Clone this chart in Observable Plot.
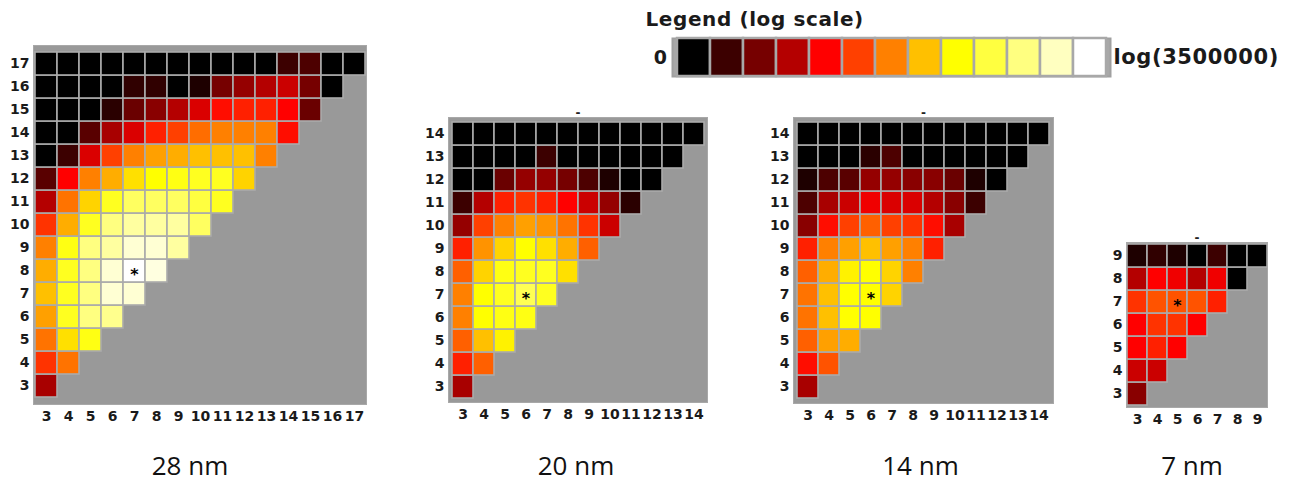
<!DOCTYPE html>
<html>
<head>
<meta charset="utf-8">
<script src="https://cdn.jsdelivr.net/npm/d3@7"></script>
<script src="https://cdn.jsdelivr.net/npm/@observablehq/plot@0.6"></script>
<style>
  html, body { margin: 0; padding: 0; background: #fff; }
  #root { position: relative; width: 1289px; height: 482px; background: #fff; }
  .pane { position: absolute; }
  #legend text { letter-spacing: 0.6px; }
</style>
</head>
<body>
<div id="root"></div>
<script>
// Legend colour steps (0 .. log(3500000)), 13 levels
const legendColors = ["#000000","#3c0000","#760000","#b40000","#ff0000","#ff4000","#ff8000","#ffc000","#ffff00","#ffff40","#ffff80","#ffffc0","#ffffff"];
const legendLevels = d3.range(13);

// Cell levels (0..12 on the legend), rows from y=3 upward; row y holds x = 3..y
const nm28 = [
  [2.8],
  [4.8, 5.8],
  [5.8, 7.5, 8.3],
  [6.5, 8.5, 10, 10.2],
  [7, 8.5, 10, 11.3, 11.3],
  [6.7, 8.5, 10, 11.3, 12, 11.5],
  [6, 8.3, 10, 10.5, 11.3, 11.3, 10.5],
  [4.8, 6.7, 8.5, 10, 10.5, 10.5, 10.5, 9.5],
  [3, 5.8, 7.3, 8.5, 9.5, 9.5, 9.5, 9, 8.5],
  [1.5, 4, 6, 6.7, 7.5, 8, 8.3, 8.5, 8.5, 7.3],
  [0, 1, 3.5, 5, 6, 6.5, 6.7, 7, 7, 7, 6],
  [0, 0, 1.5, 2.8, 3.5, 4.5, 5, 5.7, 6, 6, 6, 4.2],
  [0, 0, 0, 0.7, 1.8, 2.3, 3, 3.5, 4.2, 4.5, 4.5, 4, 1.8],
  [0, 0, 0, 0, 0.8, 0.8, 0, 0.5, 2, 2.5, 3, 3.3, 2, 0],
  [0, 0, 0, 0, 0, 0, 0, 0, 0, 0, 0, 1, 1.3, 0, 0]
];
const nm20 = [
  [2.8],
  [4.5, 5.5],
  [5.5, 7, 7.8],
  [6, 8, 8.3, 8.3],
  [6, 8, 8.5, 9.3, 8.5],
  [5.5, 7.3, 8.3, 8.5, 8.5, 7.5],
  [4.5, 6.3, 7.3, 8, 7.5, 6.7, 5.5],
  [2.5, 5, 6, 6.5, 6.3, 5.8, 4.8, 3.3],
  [1, 3, 4.5, 4.8, 4.5, 4, 3.3, 2.5, 0.7],
  [0, 0, 1.8, 2.5, 2.5, 2, 1.3, 0.5, 0, 0],
  [0, 0, 0, 0, 1, 0, 0, 0, 0, 0, 0],
  [0, 0, 0, 0, 0, 0, 0, 0, 0, 0, 0, 0]
];
const nm14 = [
  [2.8],
  [4.2, 5.3],
  [5.5, 6.5, 6.7],
  [5.8, 7, 8, 8],
  [5.8, 7, 8, 8, 7.3],
  [5.5, 6.7, 7.8, 8, 7.3, 6],
  [4.5, 6, 6.5, 7, 6.5, 6, 4.5],
  [2.3, 4.2, 5, 5.5, 5, 4.8, 4.2, 2.8],
  [1.3, 2.8, 3.3, 3.8, 3.5, 3.5, 3, 2.3, 1],
  [0.5, 1.3, 1.5, 2.5, 2.5, 2.3, 2.3, 1.8, 0.5, 0],
  [0, 0, 0, 0.7, 1.3, 0, 0, 0, 0, 0, 0],
  [0, 0, 0, 0, 0, 0, 0, 0, 0, 0, 0, 0]
];
const nm7 = [
  [2.3],
  [3.3, 3.3],
  [4, 4.5, 4],
  [4, 4.8, 4.8, 4],
  [4.8, 5.3, 5.3, 5.3, 4.5],
  [3, 4, 3.8, 3, 3.8, 0],
  [0.5, 0.8, 0.5, 0, 1, 0, 0]
];

// Starred cells [x, y]
const star28 = [7, 8];
const star20 = [6, 7];
const star14 = [6, 7];
const star7 = [5, 7];

const captions = ["28 nm", "20 nm", "14 nm", "7 nm"];
const legendTitle = "Legend (log scale)";
const legendMin = "0";
const legendMax = "log(3500000)";

const root = document.getElementById("root");
const colorScale = {type: "linear", domain: legendLevels, range: legendColors, clamp: true};

function panel(rows, maxTick, star, caption, box, dash) {
  const data = rows.flatMap((r, i) => r.map((v, j) => ({x: 3 + j, y: 3 + i, v})));
  const ticks = d3.range(3, maxTick + 1);
  const marks = [
    Plot.frame({fill: "#999999", stroke: "#a8a8a8"}),
    Plot.cell(data, {x: "x", y: "y", fill: "v", stroke: "#ababab", strokeWidth: 1.6}),
    Plot.text([star], {x: d => d[0], y: d => d[1], text: () => "*", fill: "#000", fontSize: 16, fontWeight: "bold", dy: 4}),
    Plot.text([caption], {frameAnchor: "bottom", lineAnchor: "middle", text: d => d, dx: box.cdx, dy: box.cdy, fontSize: 26, fontWeight: "normal", fontFamily: "Open Sans", fill: "#111"})
  ];
  if (dash) marks.push(Plot.text(["-"], {frameAnchor: "top", text: d => d, dy: -9, fontSize: 12, fill: "#222"}));
  const svg = Plot.plot({
    width: box.w, height: box.h,
    marginLeft: box.ml, marginRight: box.mr, marginTop: box.mt, marginBottom: box.mb,
    x: {type: "band", domain: ticks, padding: 0, tickSize: 0, tickPadding: 7, label: null},
    y: {type: "band", domain: ticks.slice().reverse(), padding: 0, tickSize: 0, tickPadding: 4, label: null},
    color: colorScale,
    style: {fontFamily: "DejaVu Sans", fontSize: "14px", fontWeight: "bold", color: "#1a1a1a", background: "transparent", overflow: "visible"},
    marks
  });
  const div = document.createElement("div");
  div.className = "pane";
  div.style.left = box.left + "px";
  div.style.top = box.top + "px";
  div.appendChild(svg);
  root.appendChild(div);
}

panel(nm28, 17, star28, captions[0], {left: 0, top: 0, w: 372, h: 482, ml: 33, mr: 6, mt: 45, mb: 78, cdx: -10, cdy: 62}, false);
panel(nm20, 14, star20, captions[1], {left: 400, top: 90, w: 315, h: 392, ml: 48, mr: 8, mt: 27, mb: 80, cdx: -2, cdy: 64}, true);
panel(nm14, 14, star14, captions[2], {left: 745, top: 90, w: 315, h: 392, ml: 48, mr: 7, mt: 27, mb: 79, cdx: -3, cdy: 63}, true);
panel(nm7, 9, star7, captions[3], {left: 1085, top: 215, w: 190, h: 267, ml: 41, mr: 8, mt: 27, mb: 75, cdx: -5, cdy: 59}, true);

// Legend
const legendSvg = Plot.plot({
  width: 669, height: 90,
  marginLeft: 52, marginRight: 179, marginTop: 38, marginBottom: 14,
  x: {type: "band", domain: legendLevels, padding: 0, axis: null},
  y: {axis: null},
  color: colorScale,
  style: {fontFamily: "DejaVu Sans", fontWeight: "bold", color: "#1a1a1a", background: "transparent", overflow: "visible"},
  marks: [
    Plot.frame({fill: "#a8a8a8", stroke: "#a0a0a0", strokeWidth: 2}),
    Plot.cell(legendLevels, {x: d => d, fill: d => d, stroke: "#a8a8a8", strokeWidth: 2.5}),
    Plot.text([legendTitle], {frameAnchor: "top-left", text: d => d, dx: -27, dy: -27, fontSize: 20, textAnchor: "start"}),
    Plot.text([legendMin], {frameAnchor: "left", text: d => d, dx: -5, fontSize: 19, textAnchor: "end"}),
    Plot.text([legendMax], {frameAnchor: "right", text: d => d, dx: 3, fontSize: 21, textAnchor: "start"})
  ]
});
const ld = document.createElement("div");
ld.className = "pane";
ld.id = "legend";
ld.style.left = "620px";
ld.style.top = "0px";
ld.appendChild(legendSvg);
root.appendChild(ld);
</script>
</body>
</html>
